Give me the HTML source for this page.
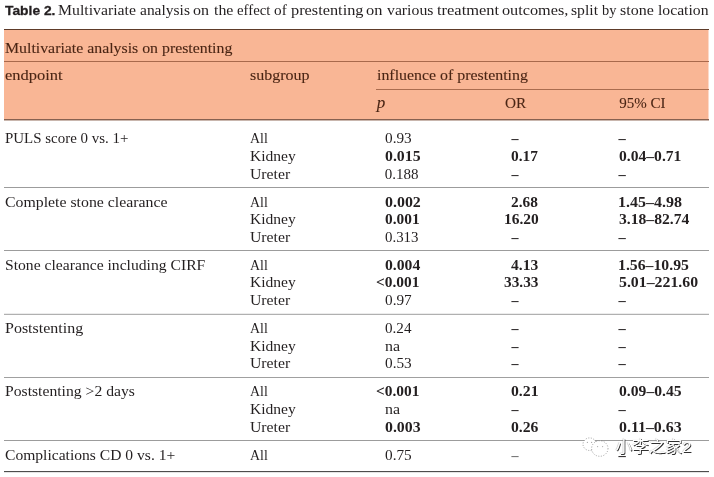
<!DOCTYPE html>
<html lang="en">
<head>
<meta charset="utf-8">
<title>Table 2. Multivariate analysis on the effect of prestenting</title>
<style>
html,body{margin:0;padding:0;background:#fff;}
body{width:714px;height:477px;position:relative;overflow:hidden;font-family:"Liberation Serif", serif;font-size:15px;color:#231f20;}
/* every text run is an inline-block nudged/stretched to the measured ink extents */
.x{display:inline-block;position:relative;white-space:pre;transform-origin:0 0;vertical-align:baseline;}
b,th{font-weight:normal;}
caption{caption-side:top;position:relative;height:29px;padding:0;margin:0;line-height:20px;text-align:left;white-space:nowrap;}
caption .x{position:absolute;top:0;margin-left:-4px;}
caption .s{font-family:"Liberation Sans", sans-serif;font-weight:bold;font-size:13.4px;top:1px;-webkit-text-stroke:0.3px #231f20;}
table{position:absolute;left:4px;top:0;width:704px;border-collapse:collapse;border-spacing:0;table-layout:fixed;}
th,td{padding:0;margin:0;border:0;text-align:left;vertical-align:top;white-space:nowrap;overflow:visible;}
thead{background:#f9b695;color:#4a2514;-webkit-text-stroke:0.1px #4a2514;}
thead th{line-height:20px;}
thead i{font-size:17px;}
tbody td,tbody th{line-height:17px;}
tbody .n{font-weight:bold;}
tbody .d{font-weight:bold;font-size:14px;}
tbody .e{font-weight:bold;font-size:14.5px;}
tbody .g{color:#707070;}
.edge{position:absolute;left:708px;top:29px;width:1px;height:91px;background:#f9b695;opacity:.5;}
.ln{position:absolute;left:4px;width:705px;height:1px;}
.wm{position:absolute;left:580px;top:434px;width:130px;height:26px;}
.wm svg{position:absolute;left:0;top:0;}
.wm span{position:absolute;left:35.4px;top:1px;font-family:"Liberation Sans","Noto Sans CJK SC",sans-serif;font-size:16.7px;line-height:24px;color:#fff;white-space:nowrap;transform:scaleY(0.93);transform-origin:0 20px;text-shadow:0.9px 0.9px 0.4px rgba(25,25,25,.9),-0.4px -0.4px 0.7px rgba(90,90,90,.45);}
</style>
</head>
<body>
<table>
  <caption>
    <b class="x s" style="left:4.74px;transform:scaleX(1.0325)">Table 2.</b>
    <span class="x" style="left:58.17px;transform:scaleX(1.0512)">Multivariate</span>
    <span class="x" style="left:140.38px;transform:scaleX(1.0328)">analysis</span>
    <span class="x" style="left:192.97px;transform:scaleX(1.0667)">on</span>
    <span class="x" style="left:213.74px;transform:scaleX(1.0571)">the</span>
    <span class="x" style="left:236.61px;transform:scaleX(0.9865)">effect</span>
    <span class="x" style="left:274.49px;transform:scaleX(1.0167)">of</span>
    <span class="x" style="left:290.63px;transform:scaleX(1.0879)">prestenting</span>
    <span class="x" style="left:366.05px;transform:scaleX(1.0947)">on</span>
    <span class="x" style="left:386.70px;transform:scaleX(1.0506)">various</span>
    <span class="x" style="left:436.53px;transform:scaleX(1.0969)">treatment</span>
    <span class="x" style="left:502.06px;transform:scaleX(1.0828)">outcomes,</span>
    <span class="x" style="left:570.98px;transform:scaleX(1.0455)">split</span>
    <span class="x" style="left:602.30px;transform:scaleX(0.9600)">by</span>
    <span class="x" style="left:620.37px;transform:scaleX(1.0667)">stone</span>
    <span class="x" style="left:658.14px;transform:scaleX(1.0450)">location</span>
  </caption>
  <colgroup><col style="width:244px"><col style="width:128px"><col style="width:127px"><col style="width:115px"><col style="width:90px"></colgroup>
  <thead>
    <tr style="height:32px"><th colspan="5" style="padding-top:9px"><span class="x" style="left:1.07px;transform:scaleX(1.0555)">Multivariate analysis on prestenting</span></th></tr>
    <tr style="height:28px"><th rowspan="2" style="padding-top:4px"><span class="x" style="left:0.65px;transform:scaleX(1.0962)">endpoint</span></th><th rowspan="2" style="padding-top:4px"><span class="x" style="left:2.37px;transform:scaleX(1.0667)">subgroup</span></th><th colspan="3" style="padding-top:4px"><span class="x" style="left:0.74px;transform:scaleX(1.0592)">influence of prestenting</span></th></tr>
    <tr style="height:30px"><th style="padding-top:4px"><i class="x" style="left:0.80px">p</i></th><th style="padding-top:4px"><span class="x" style="left:1.69px;transform:scaleX(1.0173)">OR</span></th><th style="padding-top:4px"><span class="x" style="left:1.30px">95% CI</span></th></tr>
  </thead>
  <tbody>
    <tr style="height:29px"><th scope="row" rowspan="3" style="padding-top:11px"><span class="x" style="left:1.20px;transform:scaleX(0.9963)">PULS score 0 vs. 1+</span></th><td style="padding-top:11px"><span class="x" style="left:2.37px;transform:scaleX(0.9280)">All</span></td><td style="padding-top:11px"><span class="x" style="left:8.79px;transform:scaleX(1.0178)">0.93</span></td><td style="padding-top:11px"><span class="x d" style="left:8.50px">–</span></td><td style="padding-top:11px"><span class="x e" style="left:0.40px">–</span></td></tr>
    <tr style="height:18px"><td><span class="x" style="left:2.08px;transform:scaleX(1.0368)">Kidney</span></td><td><span class="x n" style="left:8.77px;transform:scaleX(1.0534)">0.015</span></td><td><span class="x n" style="left:7.89px;transform:scaleX(1.0275)">0.17</span></td><td><span class="x n" style="left:0.68px;transform:scaleX(1.0400)">0.04–0.71</span></td></tr>
    <tr style="height:28px"><td><span class="x" style="left:2.44px;transform:scaleX(1.0500)">Ureter</span></td><td><span class="x" style="left:8.80px">0.188</span></td><td><span class="x d" style="left:8.50px">–</span></td><td><span class="x e" style="left:0.40px">–</span></td></tr>
    <tr style="height:17px"><th scope="row" rowspan="3"><span class="x" style="left:1.17px;transform:scaleX(1.0542)">Complete stone clearance</span></th><td><span class="x" style="left:2.37px;transform:scaleX(0.9280)">All</span></td><td><span class="x n" style="left:8.77px;transform:scaleX(1.0615)">0.002</span></td><td><span class="x n" style="left:8.49px;transform:scaleX(1.0218)">2.68</span></td><td><span class="x n" style="left:-0.13px;transform:scaleX(1.0661)">1.45–4.98</span></td></tr>
    <tr style="height:18px"><td><span class="x" style="left:2.08px;transform:scaleX(1.0368)">Kidney</span></td><td><span class="x n" style="left:8.79px;transform:scaleX(1.0246)">0.001</span></td><td><span class="x n" style="left:0.71px;transform:scaleX(1.0312)">16.20</span></td><td><span class="x n" style="left:0.68px;transform:scaleX(1.0427)">3.18–82.74</span></td></tr>
    <tr style="height:28px"><td><span class="x" style="left:2.44px;transform:scaleX(1.0500)">Ureter</span></td><td><span class="x" style="left:8.80px;transform:scaleX(0.9924)">0.313</span></td><td><span class="x d" style="left:8.50px">–</span></td><td><span class="x e" style="left:0.40px">–</span></td></tr>
    <tr style="height:17px"><th scope="row" rowspan="3"><span class="x" style="left:0.66px;transform:scaleX(1.0430)">Stone clearance including CIRF</span></th><td><span class="x" style="left:2.37px;transform:scaleX(0.9280)">All</span></td><td><span class="x n" style="left:8.78px;transform:scaleX(1.0455)">0.004</span></td><td><span class="x n" style="left:7.54px;transform:scaleX(1.0392)">4.13</span></td><td><span class="x n" style="left:-0.11px;transform:scaleX(1.0510)">1.56–10.95</span></td></tr>
    <tr style="height:18px"><td><span class="x" style="left:2.08px;transform:scaleX(1.0368)">Kidney</span></td><td><span class="x n" style="left:0.13px;transform:scaleX(1.0282)">&lt;0.001</span></td><td><span class="x n" style="left:0.79px;transform:scaleX(1.0229)">33.33</span></td><td><span class="x n" style="left:0.67px;transform:scaleX(1.0541)">5.01–221.60</span></td></tr>
    <tr style="height:28px"><td><span class="x" style="left:2.44px;transform:scaleX(1.0500)">Ureter</span></td><td><span class="x" style="left:8.79px;transform:scaleX(1.0178)">0.97</span></td><td><span class="x d" style="left:8.50px">–</span></td><td><span class="x e" style="left:0.40px">–</span></td></tr>
    <tr style="height:18px"><th scope="row" rowspan="3"><span class="x" style="left:1.17px;transform:scaleX(1.0662)">Poststenting</span></th><td><span class="x" style="left:2.37px;transform:scaleX(0.9280)">All</span></td><td><span class="x" style="left:8.80px;transform:scaleX(1.0078)">0.24</span></td><td><span class="x d" style="left:8.50px">–</span></td><td><span class="x e" style="left:0.40px">–</span></td></tr>
    <tr style="height:17px"><td><span class="x" style="left:2.08px;transform:scaleX(1.0368)">Kidney</span></td><td><span class="x" style="left:9.43px;transform:scaleX(1.0618)">na</span></td><td><span class="x d" style="left:8.50px">–</span></td><td><span class="x e" style="left:0.40px">–</span></td></tr>
    <tr style="height:28px"><td><span class="x" style="left:2.44px;transform:scaleX(1.0500)">Ureter</span></td><td><span class="x" style="left:8.79px;transform:scaleX(1.0178)">0.53</span></td><td><span class="x d" style="left:8.50px">–</span></td><td><span class="x e" style="left:0.40px">–</span></td></tr>
    <tr style="height:18px"><th scope="row" rowspan="3"><span class="x" style="left:1.18px;transform:scaleX(1.0450)">Poststenting &gt;2 days</span></th><td><span class="x" style="left:2.37px;transform:scaleX(0.9280)">All</span></td><td><span class="x n" style="left:0.13px;transform:scaleX(1.0282)">&lt;0.001</span></td><td><span class="x n" style="left:7.88px;transform:scaleX(1.0480)">0.21</span></td><td><span class="x n" style="left:0.68px;transform:scaleX(1.0441)">0.09–0.45</span></td></tr>
    <tr style="height:18px"><td><span class="x" style="left:2.08px;transform:scaleX(1.0368)">Kidney</span></td><td><span class="x" style="left:9.43px;transform:scaleX(1.0618)">na</span></td><td><span class="x d" style="left:8.50px">–</span></td><td><span class="x e" style="left:0.40px">–</span></td></tr>
    <tr style="height:28px"><td><span class="x" style="left:2.44px;transform:scaleX(1.0500)">Ureter</span></td><td><span class="x n" style="left:8.77px;transform:scaleX(1.0534)">0.003</span></td><td><span class="x n" style="left:7.88px;transform:scaleX(1.0455)">0.26</span></td><td><span class="x n" style="left:0.67px;transform:scaleX(1.0575)">0.11–0.63</span></td></tr>
    <tr style="height:25px"><th scope="row"><span class="x" style="left:1.18px;transform:scaleX(1.0390)">Complications CD 0 vs. 1+</span></th><td><span class="x" style="left:2.37px;transform:scaleX(0.9280)">All</span></td><td><span class="x" style="left:8.79px;transform:scaleX(1.0178)">0.75</span></td><td><span class="x d g" style="left:8.50px">–</span></td><td><span class="x e" style="left:0.40px">–</span></td></tr>
  </tbody>
</table>
<div class="edge"></div>
<div class="ln" style="top:29px;background:#5e3b29"></div>
<div class="ln" style="top:61px;background:#a8694c"></div>
<div class="ln" style="top:89px;background:#aa6c4e;left:376px;width:333px"></div>
<div class="ln" style="top:119px;background:#876150"></div>
<div class="ln" style="top:120px;background:#c9b6ad"></div>
<div class="ln" style="top:187px;background:#9c9c9c"></div>
<div class="ln" style="top:250px;background:#9c9c9c"></div>
<div class="ln" style="top:313px;background:#ececec"></div>
<div class="ln" style="top:314px;background:#b0b0b0"></div>
<div class="ln" style="top:377px;background:#a0a0a0"></div>
<div class="ln" style="top:440px;background:#9c9c9c"></div>
<div class="ln" style="top:471px;background:#4d4d4d"></div>
<div class="ln" style="top:472px;background:#e4e4e4"></div>
<div class="wm">
  <svg width="32" height="26" viewBox="0 0 32 26" aria-hidden="true">
    <g fill="#fff" stroke="#787878" stroke-width="0.7" stroke-dasharray="1 1.6">
      <ellipse cx="9.6" cy="10.2" rx="6.6" ry="6.3"/>
      <ellipse cx="19.8" cy="14.5" rx="8.2" ry="7.8"/>
    </g>
    <g fill="#aaa"><circle cx="7.4" cy="8.4" r="0.6"/><circle cx="11.6" cy="8.4" r="0.6"/><circle cx="17.6" cy="12.6" r="0.6"/><circle cx="22.6" cy="12.6" r="0.6"/></g>
  </svg>
  <span>小李之家2</span>
</div>
</body>
</html>
